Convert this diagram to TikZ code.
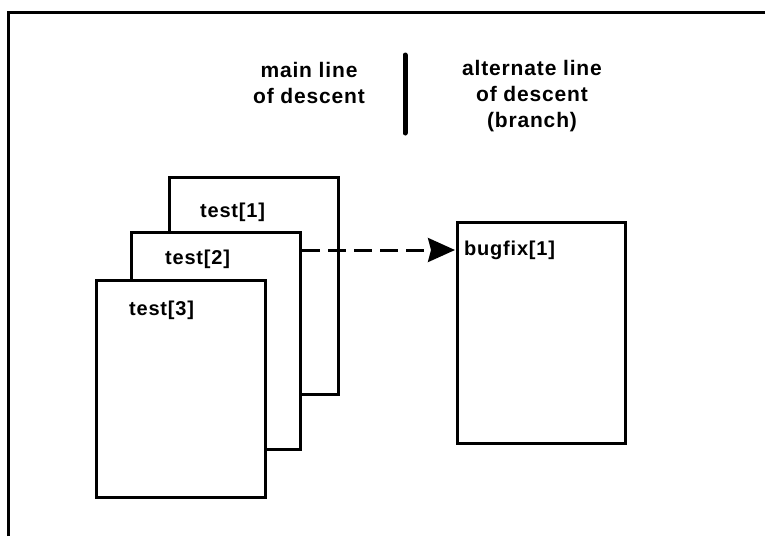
\documentclass[tikz,border=0pt]{standalone}
\usepackage{fontspec}
\setmainfont{Liberation Sans}[LetterSpace=4]
\usetikzlibrary{arrows.meta,calc}
\begin{document}
\begin{tikzpicture}[x=1pt,y=-1pt,
  box/.style={draw,line width=3pt,fill=white,minimum width=169pt,minimum height=217pt,inner sep=0pt,anchor=north west},
  lbl/.style={font=\fontsize{20}{26}\selectfont\bfseries,inner sep=0pt,anchor=west},
  head/.style={font=\fontsize{21}{26}\selectfont\bfseries,align=center,inner sep=0pt},
  frameline/.style={line width=3pt},
  divider/.style={line width=5pt,line cap=round},
  branch/.style={line width=3pt,dash pattern=on 18pt off 8pt,shorten >=1pt,-{Stealth[length=27pt,width=24pt,inset=3pt]}}]
\useasboundingbox (0,0) rectangle (765,536);
% frame (top and left edges only)
\draw[frameline] (8,536) -- (8,12) -- (765,12);
% headings
\node[head] (h1) at (309,83) {main line\\of descent};
\node[head] (h2) at (532,96) {alternate line\\of descent\\(branch)};
\coordinate (d1) at (405,55);
\coordinate (d2) at (405,133);
\draw[divider] (d1) -- (d2);
% stacked versions
\node[box] (t1) at (168,176) {};
\node[lbl] (l1) at (200,212) {test[1]};
\node[box] (t2) at (130,231) {};
\node[lbl] (l2) at (165,259) {test[2]};
\node[box] (t3) at (95,279) {};
\node[lbl] (l3) at (129,310) {test[3]};
% branch
\node[box,minimum height=221pt,minimum width=168pt] (bf) at (456,221) {};
\node[lbl] (lb) at (464,250) {bugfix[1]};
\draw[branch] ([yshift=-19pt]t2.north east) -- ([yshift=-29pt]bf.north west);
\end{tikzpicture}
\end{document}
